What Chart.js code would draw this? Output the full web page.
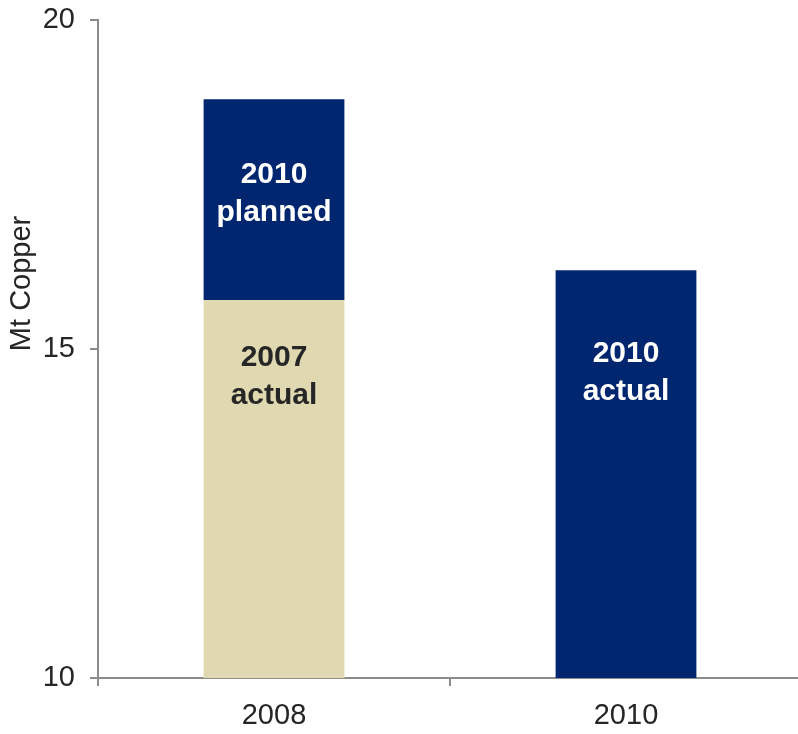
<!DOCTYPE html>
<html>
<head>
<meta charset="utf-8">
<title>Copper</title>
<script src="https://cdn.jsdelivr.net/npm/chart.js@4.4.1/dist/chart.umd.min.js"></script>
<style>
  html, body { margin: 0; padding: 0; background: #fff; overflow: hidden; }
  #wrap { width: 802px; height: 746px; position: absolute; left: 0; top: -12px; }
</style>
</head>
<body>
<div id="wrap"><canvas id="copperChart"></canvas></div>
<script>
const categories = ["2008", "2010"];
const actual2007 = [15.75, null];   // Mt, top of the tan block
const planned2010 = [18.8, null];   // Mt, top of the planned block
const actual2010 = [null, 16.2];
const yTicks = [10, 15, 20];

const NAVY = "#002670";
const TAN = "#e0d8b0";
const AXIS = "#8c8c8c";
const TEXT = "#262626";
const FONT = "'Liberation Sans', Arial, sans-serif";

// two-line text inside the bars; labelAt is the y value of the first baseline
const barText = {
  id: "barText",
  afterDatasetsDraw(chart) {
    const ctx = chart.ctx;
    const y = chart.scales.y;
    chart.data.datasets.forEach(function (ds, i) {
      const meta = chart.getDatasetMeta(i);
      meta.data.forEach(function (bar, j) {
        if (ds.data[j] == null) return;
        const base = y.getPixelForValue(ds.labelAt);
        ctx.save();
        ctx.font = "bold 30px " + FONT;
        ctx.fillStyle = ds.labelColor;
        ctx.textAlign = "center";
        ctx.textBaseline = "alphabetic";
        ctx.fillText(ds.labelLines[0], bar.x, base);
        ctx.fillText(ds.labelLines[1], bar.x, base + 38);
        ctx.restore();
      });
    });
  },
};

// rotated axis title, placed on the y scale rather than centred
const yTitle = {
  id: "yTitle",
  afterDraw(chart) {
    const ctx = chart.ctx;
    const cy = chart.scales.y.getPixelForValue(16.0);
    ctx.save();
    ctx.translate(22, cy);
    ctx.rotate(-Math.PI / 2);
    ctx.font = "29px " + FONT;
    ctx.fillStyle = TEXT;
    ctx.textAlign = "center";
    ctx.textBaseline = "middle";
    ctx.fillText("Mt Copper", 0, 0);
    ctx.restore();
  },
};

new Chart(document.getElementById("copperChart"), {
  type: "bar",
  data: {
    labels: categories,
    datasets: [
      {
        data: actual2007,
        backgroundColor: TAN,
        labelLines: ["2007", "actual"],
        labelColor: TEXT,
        labelAt: 14.74,
      },
      {
        data: planned2010.map((v, i) => (v == null ? null : [actual2007[i], v])),
        backgroundColor: NAVY,
        labelLines: ["2010", "planned"],
        labelColor: "#ffffff",
        labelAt: 17.53,
      },
      {
        data: actual2010,
        backgroundColor: NAVY,
        labelLines: ["2010", "actual"],
        labelColor: "#ffffff",
        labelAt: 14.81,
      },
    ],
  },
  options: {
    responsive: true,
    maintainAspectRatio: false,
    animation: false,
    barPercentage: 0.4,
    categoryPercentage: 1,
    layout: { padding: { top: 9, right: 0, left: 0, bottom: 0 } },
    plugins: { legend: { display: false }, tooltip: { enabled: false } },
    scales: {
      x: {
        stacked: true,
        grid: { drawOnChartArea: false, tickLength: 8, lineWidth: 2, color: AXIS },
        border: { color: AXIS, width: 2 },
        ticks: { color: TEXT, font: { family: FONT, size: 29 }, padding: 13 },
        afterFit: (s) => { s.height = 56; },
      },
      y: {
        min: 10,
        max: 20,
        afterBuildTicks: (s) => { s.ticks = yTicks.map((v) => ({ value: v })); },
        grid: { drawOnChartArea: false, tickLength: 8, lineWidth: 2, color: AXIS },
        border: { color: AXIS, width: 2 },
        ticks: { color: TEXT, font: { family: FONT, size: 29 }, padding: 15 },
        afterFit: (s) => { s.width = 98; },
      },
    },
  },
  plugins: [barText, yTitle],
});
</script>
</body>
</html>
